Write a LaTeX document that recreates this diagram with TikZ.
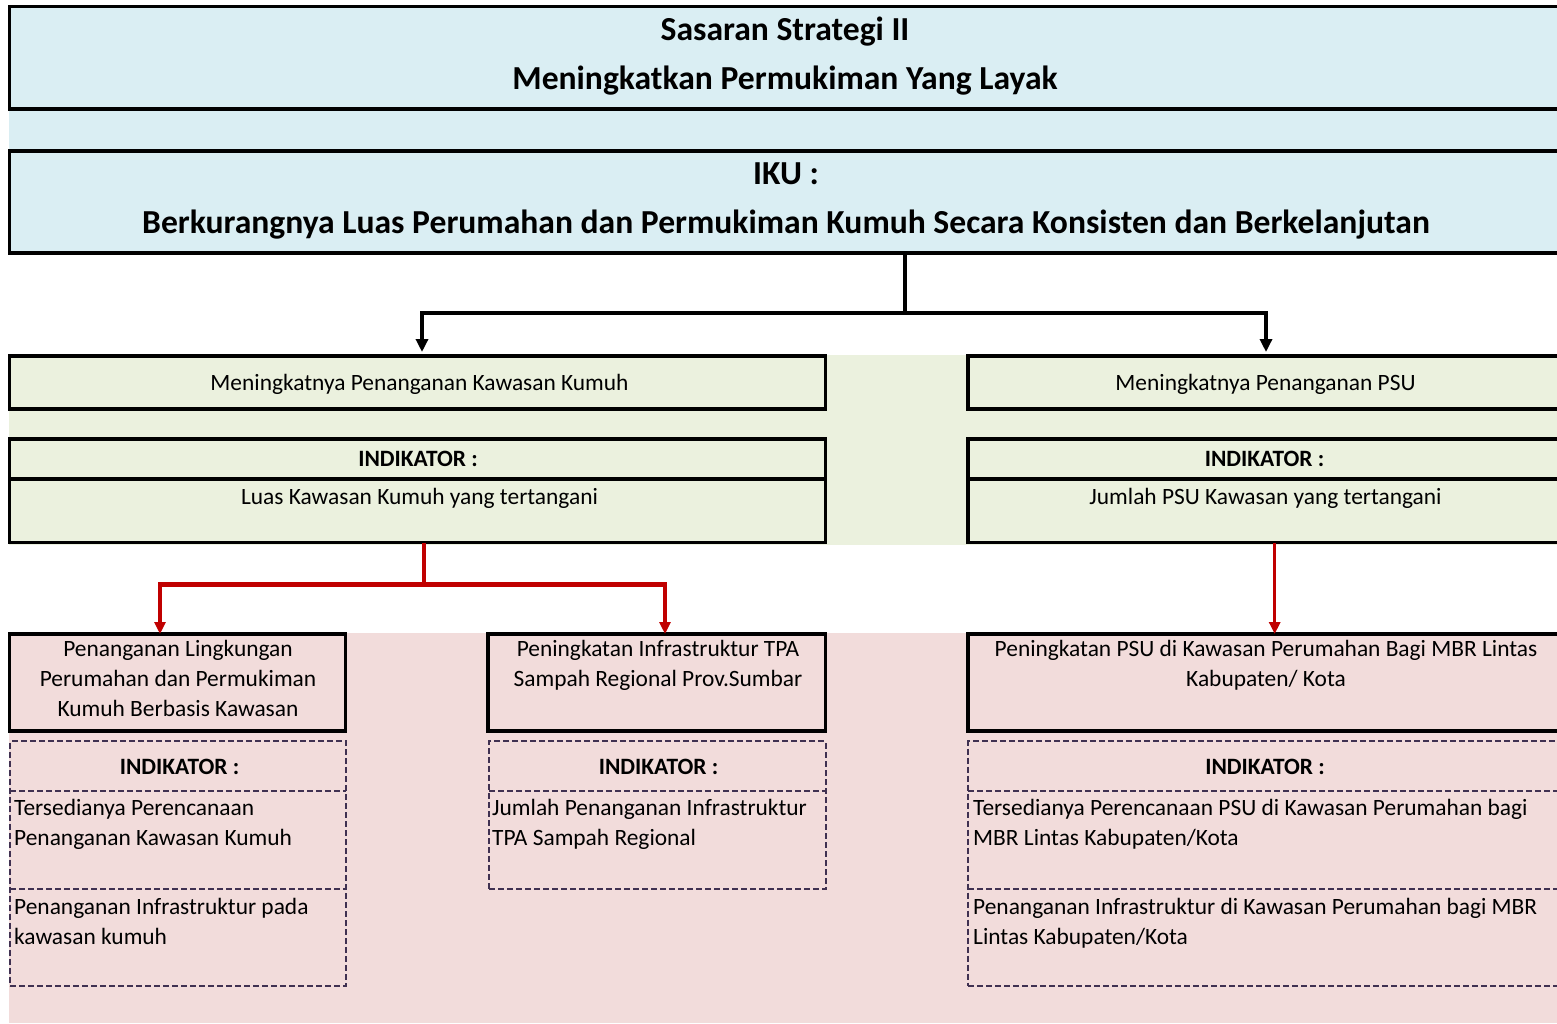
\documentclass[tikz,border=0pt]{standalone}
\usepackage{fontspec}
\setmainfont{Carlito}
\usetikzlibrary{arrows.meta}
\definecolor{bluebg}{HTML}{DAEEF3}
\definecolor{greenbg}{HTML}{EBF1DE}
\definecolor{pinkbg}{HTML}{F2DCDB}
\definecolor{dashc}{HTML}{403151}
\definecolor{redc}{HTML}{C00000}
\begin{document}
\begin{tikzpicture}[x=1pt,y=-1pt,
  solidbox/.style={draw=black, line width=3.5pt, inner sep=0pt, outer sep=0pt, minimum width=#1},
  dashline/.style={draw=dashc, line width=2pt, dash pattern=on 6pt off 3pt},
  dashbox/.style={dashline, inner sep=0pt, outer sep=0pt, minimum width=#1},
  slot/.style={inner sep=0pt, outer sep=0pt, minimum width=#1},
  titletxt/.style={font=\fontsize{33.6}{49}\selectfont\bfseries, anchor=base, inner sep=0pt, align=center},
  bodytxt/.style={font=\fontsize{23.4}{30}\selectfont, anchor=base, inner sep=0pt, align=center},
  boldtxt/.style={font=\fontsize{23.4}{30}\selectfont\bfseries, anchor=base, inner sep=0pt},
  lefttxt/.style={font=\fontsize{23.4}{30}\selectfont, anchor=base west, inner sep=0pt, align=left},
  blkline/.style={draw=black, line width=4pt},
  blkarrow/.style={blkline, -{Triangle[length=13pt,width=12pt]}, shorten >=4pt},
  redarrow/.style={draw=redc, line width=4.2pt, -{Triangle[length=12pt,width=11pt]}},
]
\useasboundingbox (0,0) rectangle (1557,1024);
\clip (0,0) rectangle (1557,1024);
\fill[white] (0,0) rectangle (1557,1024);
% background bands
\fill[bluebg] (9,6) rectangle (1557,253);
\fill[greenbg] (9,355) rectangle (1557,545);
\fill[pinkbg] (9,633) rectangle (1557,1023);

% top boxes
\node[solidbox=1552.7pt, minimum height=102.5pt] (top) at (785.65,57.55) {};
\node[solidbox=1552.7pt, minimum height=102pt] (iku) at (785.65,202) {};

% green boxes
\node[solidbox=816pt, minimum height=53pt] (gl1) at (417.5,382.5) {};
\node[solidbox=594pt, minimum height=53pt] (gr1) at (1265,382.5) {};
\node[solidbox=816pt, minimum height=40pt] (gl2h) at (417.5,459) {};
\node[solidbox=816pt, minimum height=63.5pt] (gl2b) at (417.5,510.75) {};
\node[solidbox=594pt, minimum height=40pt] (gr2h) at (1265,459) {};
\node[solidbox=594pt, minimum height=63.5pt] (gr2b) at (1265,510.75) {};

% pink boxes
\node[solidbox=336pt, minimum height=97pt] (pa) at (177.5,682.5) {};
\node[solidbox=337.5pt, minimum height=97pt] (pb) at (656.75,682.5) {};
\node[solidbox=594pt, minimum height=97pt] (pc) at (1265,682.5) {};

% dashed indicator boxes
\node[dashbox=336pt, minimum height=244.5pt] (da) at (178,863.25) {};
\node[slot=336pt, minimum height=49.5pt] (dah) at (178,765.75) {};
\node[slot=336pt, minimum height=98.5pt] (da1) at (178,839.75) {};
\draw[dashline] (dah.south west) -- (dah.south east);
\draw[dashline] (da1.south west) -- (da1.south east);

\node[dashbox=336.5pt, minimum height=148pt] (db) at (657.25,815) {};
\node[slot=336.5pt, minimum height=49.5pt] (dbh) at (657.25,765.75) {};
\draw[dashline] (dbh.south west) -- (dbh.south east);

\node[dashbox=594pt, minimum height=244.5pt] (dc) at (1265,863.25) {};
\node[slot=594pt, minimum height=49.5pt] (dch) at (1265,765.75) {};
\node[slot=594pt, minimum height=98.5pt] (dc1) at (1265,839.75) {};
\draw[dashline] (dch.south west) -- (dch.south east);
\draw[dashline] (dc1.south west) -- (dc1.south east);

% black connectors
\coordinate (hub) at (905,312.5);
\draw[blkline] ([xshift=119.35pt]iku.south) -- (hub);
\draw[blkarrow] ([xshift=2pt]hub) -| ([xshift=4.5pt]gl1.north);
\draw[blkarrow] ([xshift=-2pt]hub) -| ([xshift=1pt]gr1.north);

% red connectors
\coordinate (rhub) at (424,584.5);
\draw[draw=redc, line width=4.2pt] ([xshift=6.5pt]gl2b.south) -- (rhub);
\draw[redarrow] ([xshift=2pt]rhub) -| ([xshift=-17.5pt]pa.north);
\draw[redarrow] ([xshift=-2pt]rhub) -| ([xshift=8.25pt]pb.north);
\draw[redarrow, line width=3.5pt] ([xshift=9.7pt]gr2b.south) -- ([xshift=9.7pt]pc.north);

% texts (anchor base = baseline of last line)
\node[titletxt] (t1) at (785,89.3) {Sasaran Strategi II\\Meningkatkan Permukiman Yang Layak};
\node[titletxt] (t2) at (786,233.5) {IKU :\\Berkurangnya Luas Perumahan dan Permukiman Kumuh Secara Konsisten dan Berkelanjutan};

\node[bodytxt] (tgl1) at (419.5,390.5) {Meningkatnya Penanganan Kawasan Kumuh};
\node[boldtxt] (tgl2) at (418,466.5) {INDIKATOR :};
\node[bodytxt] (tgl3) at (419.5,504) {Luas Kawasan Kumuh yang tertangani};
\node[bodytxt] (tgr1) at (1265.5,390.5) {Meningkatnya Penanganan PSU};
\node[boldtxt] (tgr2) at (1264.5,466.5) {INDIKATOR :};
\node[bodytxt] (tgr3) at (1265.5,504) {Jumlah PSU Kawasan yang tertangani};

\node[bodytxt] (tpa) at (178,716.5) {Penanganan Lingkungan\\Perumahan dan Permukiman\\Kumuh Berbasis Kawasan};
\node[bodytxt] (tpb) at (658,686.5) {Peningkatan Infrastruktur TPA\\Sampah Regional Prov.Sumbar};
\node[bodytxt] (tpc) at (1266,686.5) {Peningkatan PSU di Kawasan Perumahan Bagi MBR Lintas\\Kabupaten/ Kota};

\node[boldtxt] (tdah) at (179.5,774.8) {INDIKATOR :};
\node[lefttxt] (tda1) at (14,845.5) {Tersedianya Perencanaan\\Penanganan Kawasan Kumuh};
\node[lefttxt] (tda2) at (14,944) {Penanganan Infrastruktur pada\\kawasan kumuh};
\node[boldtxt] (tdbh) at (658.5,774.8) {INDIKATOR :};
\node[lefttxt] (tdb1) at (492,845.5) {Jumlah Penanganan Infrastruktur\\TPA Sampah Regional};
\node[boldtxt] (tdch) at (1265,774) {INDIKATOR :};
\node[lefttxt] (tdc1) at (973,845.5) {Tersedianya Perencanaan PSU di Kawasan Perumahan bagi\\MBR Lintas Kabupaten/Kota};
\node[lefttxt] (tdc2) at (973,944) {Penanganan Infrastruktur di Kawasan Perumahan bagi MBR\\Lintas Kabupaten/Kota};
\end{tikzpicture}
\end{document}
